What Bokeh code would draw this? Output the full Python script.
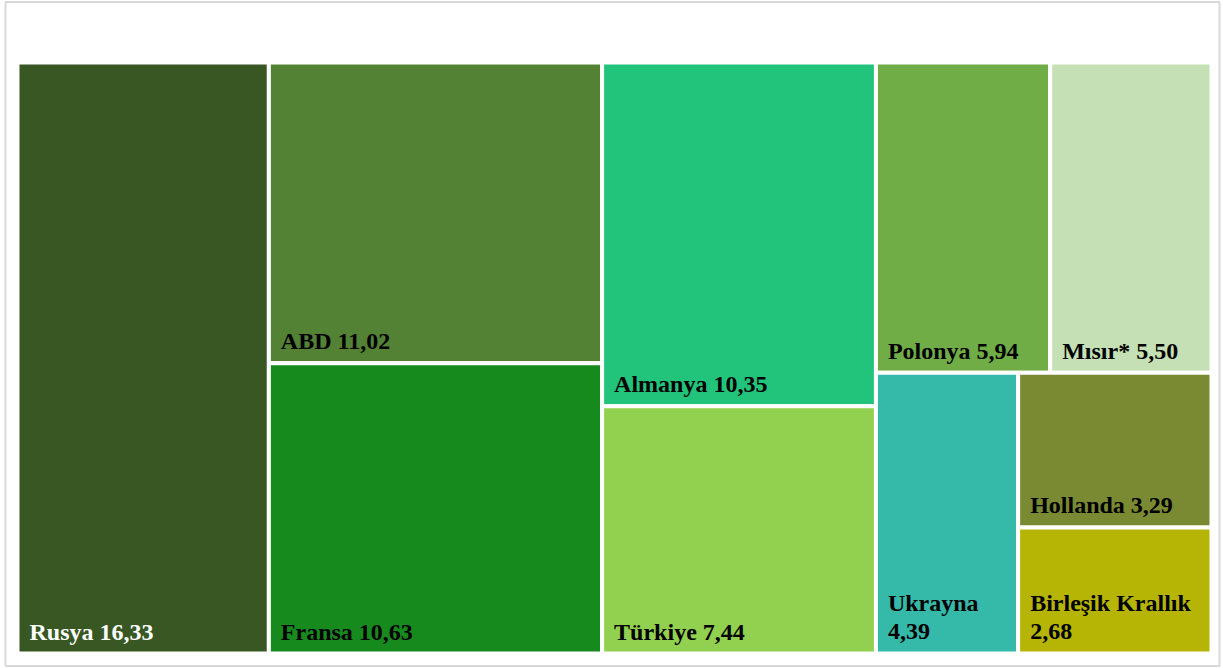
from bokeh.plotting import figure
from bokeh.models import ColumnDataSource, Range1d
from bokeh.core.properties import value
from bokeh.embed import file_html
from bokeh.resources import INLINE

# ---- data ----
countries = ["Rusya", "ABD", "Fransa", "Almanya", "Türkiye", "Polonya",
             "Mısır*", "Ukrayna", "Hollanda", "Birleşik Krallık"]
values = [16.33, 11.02, 10.63, 10.35, 7.44, 5.94, 5.50, 4.39, 3.29, 2.68]
colors = ["#385723", "#548235", "#178a1e", "#22c47c", "#92d050", "#70ad47",
          "#c5e0b4", "#35b9a9", "#7a8a33", "#b6b505"]
label_colors = ["white"] + ["black"] * 9
# grouping of the treemap (indices into the lists above)
tree = [0, [1, 2], [3, 4], [[5, 6], [7, [8, 9]]]]

W, H = 1223, 668
# treemap area in pixel-like data units (y grows downwards)
AX0, AY0, AX1, AY1 = 17, 62, 1211, 653


def total(node):
    if isinstance(node, int):
        return values[node]
    return sum(total(c) for c in node)


rects = {}


def layout(node, x0, y0, x1, y1, depth):
    if isinstance(node, int):
        rects[node] = (x0, y0, x1, y1)
        return
    t = total(node)
    if depth % 2 == 0:  # split left to right
        x = x0
        for c in node:
            w = (x1 - x0) * total(c) / t
            layout(c, x, y0, x + w, y1, depth + 1)
            x += w
    else:  # split top to bottom
        y = y0
        for c in node:
            h = (y1 - y0) * total(c) / t
            layout(c, x0, y, x1, y + h, depth + 1)
            y += h


layout(tree, AX0, AY0, AX1, AY1, 0)

idx = list(range(len(countries)))
src = ColumnDataSource(dict(
    left=[rects[i][0] for i in idx], top=[rects[i][1] for i in idx],
    right=[rects[i][2] for i in idx], bottom=[rects[i][3] for i in idx],
    color=colors, name=countries, val=values))

p = figure(width=W, height=H, output_backend="svg", toolbar_location=None,
           x_range=Range1d(0, W), y_range=Range1d(H, 0),
           x_axis_location=None, y_axis_location=None,
           min_border_left=0, min_border_right=0,
           min_border_top=0, min_border_bottom=0)
p.grid.visible = False
p.outline_line_color = None
p.border_fill_color = "white"
p.background_fill_color = "white"

# chart-area border
p.quad(left=[5], right=[1219], top=[1.5], bottom=[665.5], fill_color=None,
       line_color="#d9d9d9", line_width=2)

p.quad(left="left", right="right", bottom="bottom", top="top",
       fill_color="color", line_color="white", line_width=4, source=src)

# labels
FS = 24
LINE = 29
lx, ly, lt, lc, loff = [], [], [], [], []
for i in idx:
    x0, y0, x1, y1 = rects[i]
    vtxt = f"{values[i]:.2f}".replace(".", ",")
    full = f"{countries[i]} {vtxt}"
    box_px = x1 - x0
    est = len(full) * FS * 0.47
    if est > box_px - 24:
        lines = [countries[i], vtxt]
    else:
        lines = [full]
    n = len(lines)
    for k, line in enumerate(lines):
        lx.append(x0)
        ly.append(y1)
        lt.append(line)
        lc.append(label_colors[i])
        loff.append(-22 - (n - 1 - k) * LINE)

lsrc = ColumnDataSource(dict(x=lx, y=ly, text=lt, color=lc, yoff=loff))
p.text(x="x", y="y", text="text", source=lsrc, x_offset=12, y_offset="yoff",
       text_color="color", text_font=value("Liberation Serif"),
       text_font_style="bold", text_font_size=f"{FS}px",
       text_baseline="alphabetic", text_align="left")

open("out.html", "w").write(file_html(p, INLINE))
